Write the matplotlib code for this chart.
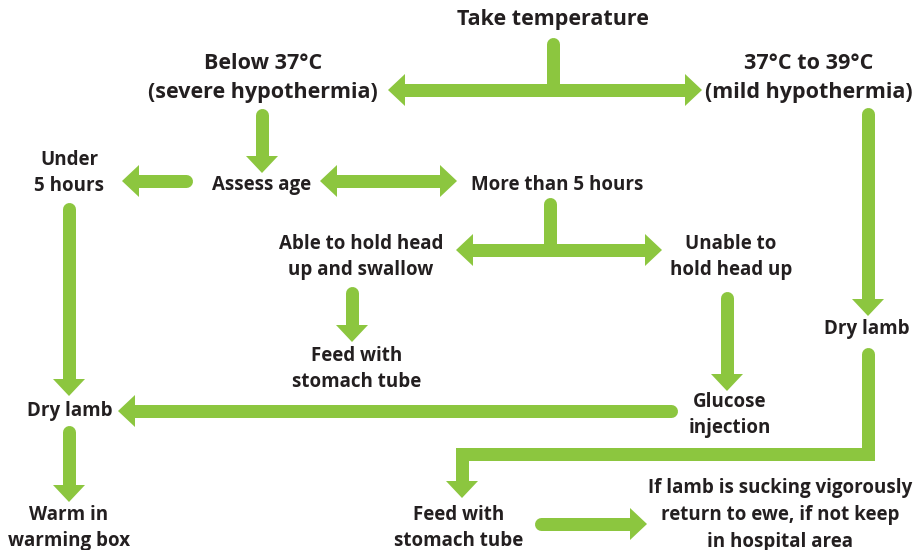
import matplotlib
matplotlib.use('Agg')
import matplotlib.pyplot as plt
from matplotlib.patches import Polygon

GREEN = '#8cc63f'
INK = '#231f20'

# node labels
labels = [
    'Take temperature',
    'Below 37°C\n(severe hypothermia)',
    '37°C to 39°C\n(mild hypothermia)',
    'Under\n5 hours',
    'Assess age',
    'More than 5 hours',
    'Able to hold head\nup and swallow',
    'Unable to\nhold head up',
    'Dry lamb',
    'Feed with\nstomach tube',
    'Dry lamb',
    'Glucose\ninjection',
    'Warm in\nwarming box',
    'Feed with\nstomach tube',
    'If lamb is sucking vigorously\nreturn to ewe, if not keep\nin hospital area',
]
# label centres (pixels, y down) and font sizes
label_xy = [
    (553, 20), (263, 78), (809, 78), (69, 173), (262, 185), (557, 185),
    (361, 257), (731, 257), (867, 329), (357, 369), (70, 411),
    (730, 415), (69, 528), (459, 528), (780, 515),
]
label_size = [15.5, 15.5, 15.5] + [13.5] * 12

W = 13      # shaft width px
HW = 32     # head width px
HL = 17     # head length px
LW = W * 72 / 100
DIRS = {'l': (-1, 0), 'r': (1, 0), 'd': (0, 1), 'u': (0, -1)}


def shaft(pts, cap='round'):
    xs = [p[0] for p in pts]
    ys = [p[1] for p in pts]
    ax.plot(xs, ys, color=GREEN, lw=LW, solid_capstyle=cap,
            solid_joinstyle='miter', zorder=2)


def head(tip, direction):
    x, y = tip
    dx, dy = DIRS[direction]
    bx, by = x - dx * HL, y - dy * HL
    px, py = -dy, dx
    tri = [(x, y), (bx + px * HW / 2, by + py * HW / 2),
           (bx - px * HW / 2, by - py * HW / 2)]
    ax.add_patch(Polygon(tri, closed=True, color=GREEN, lw=0, zorder=3))


def arrow(tail, tip, direction):
    x, y = tip
    dx, dy = DIRS[direction]
    shaft([tail, (x - dx * (HL - 1), y - dy * (HL - 1))])
    head(tip, direction)


def double(left, right, y):
    shaft([(left + HL - 1, y), (right - HL + 1, y)], cap='butt')
    head((left, y), 'l')
    head((right, y), 'r')


fig = plt.figure(figsize=(9.13, 5.5), dpi=100)
ax = fig.add_axes([0, 0, 1, 1])
ax.set_xlim(0, 913)
ax.set_ylim(550, 0)
ax.axis('off')

# take temperature split
shaft([(553, 44), (553, 90)])
double(388, 702, 90)
# severe -> assess age
arrow((262, 115), (262, 173), 'd')
# assess age -> under 5 hours
arrow((186, 181), (122, 181), 'l')
# assess age <-> more than 5 hours
double(320, 457, 181)
# more than 5 hours split
shaft([(550, 204), (550, 250)])
double(456, 662, 250)
# able -> feed
arrow((352, 293), (352, 342), 'd')
# unable -> glucose
arrow((727, 298), (727, 391), 'd')
# under 5 -> dry lamb
arrow((69, 209), (69, 396), 'd')
# glucose -> dry lamb
arrow((671, 411), (118, 411), 'l')
# dry lamb -> warm
arrow((69, 432), (69, 502), 'd')
# mild -> dry lamb
arrow((868, 114), (868, 316), 'd')
# dry lamb -> feed bottom
shaft([(868, 354), (868, 454), (462, 454), (462, 482)])
head((462, 498), 'd')
# feed -> return to ewe
arrow((541, 524), (647, 524), 'r')

for txt, (x, y), fs in zip(labels, label_xy, label_size):
    ax.text(x, y, txt, ha='center', va='center', fontsize=fs,
            fontweight='bold', family='Open Sans', color=INK,
            linespacing=1.45, zorder=4)

fig.savefig('out.png', dpi=100)
